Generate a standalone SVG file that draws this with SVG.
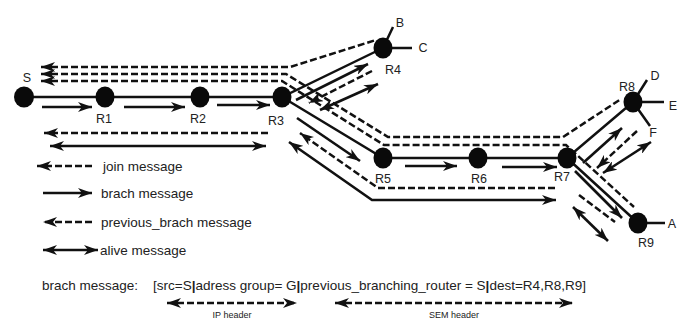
<svg xmlns="http://www.w3.org/2000/svg" width="685" height="320" viewBox="0 0 685 320">
<style>
.link{stroke:#111;stroke-width:2.5;fill:none}
.sol{stroke:#111;stroke-width:2.6;fill:none}
.dash{stroke:#111;stroke-width:2.5;fill:none;stroke-dasharray:7 3}
.node{fill:#0a0a0a}
text{font-family:"Liberation Sans",Arial,sans-serif;font-size:12px;fill:#222}
.lab{font-size:12.5px}
.leg{font-size:13.5px}
.small{font-size:9px}
</style>
<defs>
<marker id="ah" viewBox="0 0 14 10" refX="14" refY="5" markerWidth="14" markerHeight="10" markerUnits="userSpaceOnUse" orient="auto-start-reverse">
<path d="M0,0 L14,5 L0,10 L4,5 z" fill="#111"/>
</marker>
</defs>
<rect width="685" height="320" fill="#fff"/>

<g id="connectors">
<!-- main links -->
<path class="link" d="M24,97 H282 L383,48 M282,97 L383,158 H567 L633,102 M567,158 L638,223"/>
<path class="link" d="M383,48 L393,27 M383,48 H412 M633,102 L647,80 M633,102 H664 M633,102 L650,126 M638,223 H665"/>
<!-- join messages -->
<path class="dash" d="M41,67 H290 L376,40" marker-start="url(#ah)"/>
<path class="dash" d="M41,74 H286 L388,137 H563 L621,99" marker-start="url(#ah)"/>
<path class="dash" d="M41,81 H282 L384,145 H566 L634,207" marker-start="url(#ah)"/>
<!-- branch messages -->
<path class="sol" d="M42,107 H92" marker-end="url(#ah)"/>
<path class="sol" d="M124,107 H185" marker-end="url(#ah)"/>
<path class="sol" d="M217,105 H270" marker-end="url(#ah)"/>
<path class="sol" d="M296,100 L368,64" marker-end="url(#ah)"/>
<path class="sol" d="M297,118 L360,161" marker-end="url(#ah)"/>
<path class="sol" d="M405,166 H457" marker-end="url(#ah)"/>
<path class="sol" d="M502,167 H557" marker-end="url(#ah)"/>
<path class="sol" d="M583,163 L622,128" marker-end="url(#ah)"/>
<path class="sol" d="M575,171 L622,218" marker-end="url(#ah)"/>
<!-- previous_brach messages -->
<path class="dash" d="M268,133 H44" marker-end="url(#ah)"/>
<path class="dash" d="M372,71 L309,103" marker-end="url(#ah)"/>
<path class="dash" d="M555,188 H378 L300,133" marker-end="url(#ah)"/>
<path class="dash" d="M637,131 L597,168" marker-end="url(#ah)"/>
<path class="dash" d="M579,195 L615,222"/>
<!-- alive messages -->
<path class="sol" d="M50,146 H266" marker-start="url(#ah)" marker-end="url(#ah)"/>
<path class="sol" d="M320,110 L378,84" marker-start="url(#ah)" marker-end="url(#ah)"/>
<path class="sol" d="M289,142 L372,200 H556" marker-start="url(#ah)" marker-end="url(#ah)"/>
<path class="sol" d="M603,173 L651,142" marker-start="url(#ah)" marker-end="url(#ah)"/>
<path class="sol" d="M573,207 L608,241" marker-start="url(#ah)" marker-end="url(#ah)"/>
</g>

<g id="S"><ellipse class="node" cx="24" cy="97" rx="10" ry="10.5"/><text class="lab" x="27" y="82" text-anchor="middle">S</text></g>
<g id="R1"><ellipse class="node" cx="105" cy="97" rx="9.5" ry="10.5"/><text class="lab" x="104" y="123" text-anchor="middle">R1</text></g>
<g id="R2"><ellipse class="node" cx="200" cy="97" rx="9.5" ry="10.5"/><text class="lab" x="198" y="123" text-anchor="middle">R2</text></g>
<g id="R3"><ellipse class="node" cx="282" cy="97" rx="9.5" ry="10.5"/><text class="lab" x="276" y="125" text-anchor="middle">R3</text></g>
<g id="R4"><ellipse class="node" cx="383" cy="48" rx="9.5" ry="10.5"/><text class="lab" x="393" y="74" text-anchor="middle">R4</text>
<text class="lab" x="400" y="27" text-anchor="middle">B</text><text class="lab" x="423" y="52" text-anchor="middle">C</text></g>
<g id="R5"><ellipse class="node" cx="383" cy="158" rx="9.5" ry="10.5"/><text class="lab" x="383" y="183" text-anchor="middle">R5</text></g>
<g id="R6"><ellipse class="node" cx="478" cy="158" rx="9.5" ry="10.5"/><text class="lab" x="479" y="183" text-anchor="middle">R6</text></g>
<g id="R7"><ellipse class="node" cx="567" cy="158" rx="9.5" ry="10.5"/><text class="lab" x="562" y="181" text-anchor="middle">R7</text></g>
<g id="R8"><ellipse class="node" cx="633" cy="102" rx="9.5" ry="10.5"/><text class="lab" x="627" y="91" text-anchor="middle">R8</text>
<text class="lab" x="655" y="80" text-anchor="middle">D</text><text class="lab" x="673" y="110" text-anchor="middle">E</text><text class="lab" x="653" y="137" text-anchor="middle">F</text></g>
<g id="R9"><ellipse class="node" cx="638" cy="223" rx="9.5" ry="10.5"/><text class="lab" x="646" y="247" text-anchor="middle">R9</text><text class="lab" x="672" y="228" text-anchor="middle">A</text></g>

<g id="legend">
<path class="dash" d="M92,166 H37" marker-end="url(#ah)"/>
<text class="leg" x="103" y="171">join message</text>
<path class="sol" d="M43,193 H92" marker-end="url(#ah)"/>
<text class="leg" x="101" y="198">brach message</text>
<path class="dash" d="M92,222 H43" marker-end="url(#ah)"/>
<text class="leg" x="101" y="227">previous_brach message</text>
<path class="sol" d="M43,250 H98" marker-start="url(#ah)" marker-end="url(#ah)"/>
<text class="leg" x="100" y="255">alive message</text>
</g>

<g id="format">
<text class="leg" x="42" y="290">brach message:</text>
<text class="leg" x="153" y="290" textLength="433" lengthAdjust="spacingAndGlyphs">[src=S<tspan font-weight="bold">|</tspan>adress group= G<tspan font-weight="bold">|</tspan>previous_branching_router = S<tspan font-weight="bold">|</tspan>dest=R4,R8,R9]</text>
<path class="dash" d="M167,303 H297" marker-start="url(#ah)" marker-end="url(#ah)"/>
<text class="small" x="232" y="318" text-anchor="middle">IP header</text>
<path class="dash" d="M335,303 H573" marker-start="url(#ah)" marker-end="url(#ah)"/>
<text class="small" x="454" y="318" text-anchor="middle">SEM header</text>
</g>
</svg>
